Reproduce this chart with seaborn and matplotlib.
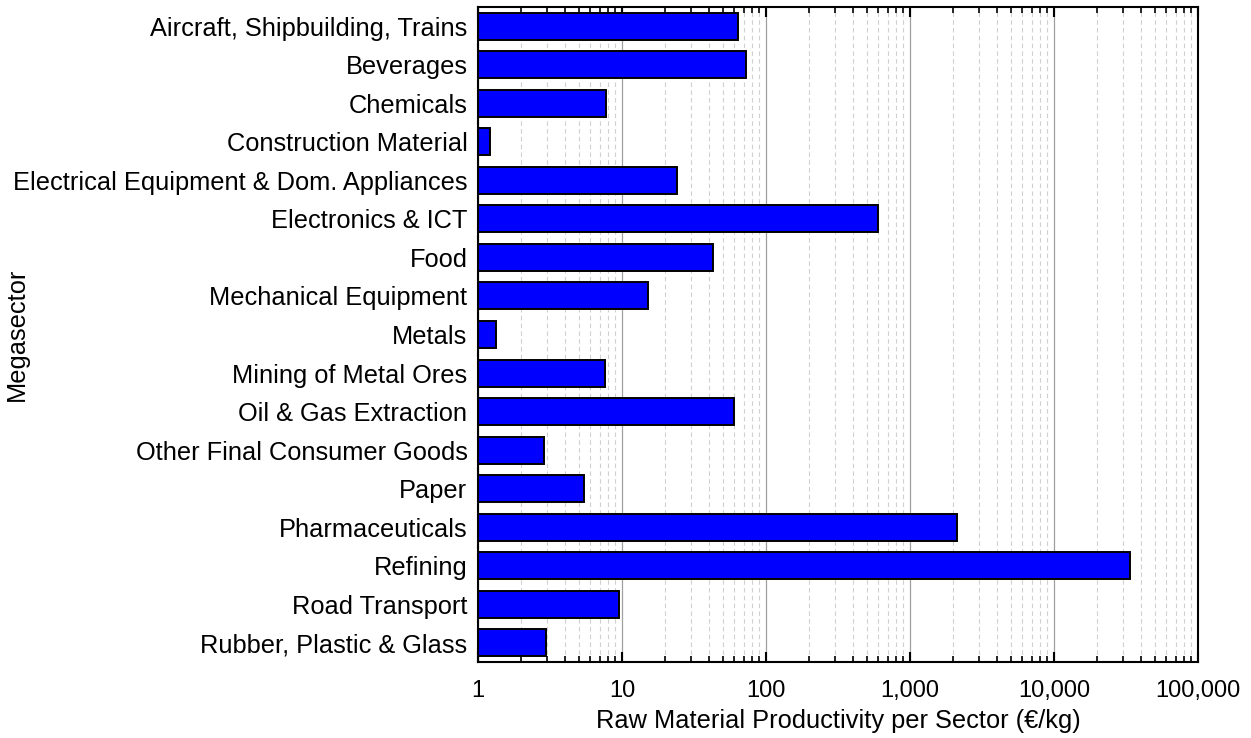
import numpy as np
import pandas as pd
import seaborn as sns
import matplotlib.pyplot as plt
from matplotlib.ticker import FuncFormatter, LogLocator, NullFormatter

# Data
sectors = [
    "Aircraft, Shipbuilding, Trains", "Beverages", "Chemicals",
    "Construction Material", "Electrical Equipment & Dom. Appliances",
    "Electronics & ICT", "Food", "Mechanical Equipment", "Metals",
    "Mining of Metal Ores", "Oil & Gas Extraction", "Other Final Consumer Goods",
    "Paper", "Pharmaceuticals", "Refining", "Road Transport",
    "Rubber, Plastic & Glass",
]
productivity = [63.6, 73, 7.8, 1.22, 24.1, 597, 43, 15.3, 1.34,
                7.6, 59.6, 2.89, 5.47, 2120, 33900, 9.48, 2.98]

df = pd.DataFrame({"Megasector": sectors, "Productivity": productivity})

sns.set_style("white")
plt.rcParams['font.family'] = ['Liberation Sans', 'DejaVu Sans']
plt.rcParams['text.color'] = 'black'
plt.rcParams['axes.labelcolor'] = 'black'
plt.rcParams['xtick.color'] = 'black'
plt.rcParams['ytick.color'] = 'black'

fig = plt.figure(figsize=(12.51, 7.38), dpi=100)
ax = fig.add_axes([0.382, 0.103, 0.5756, 0.8875])

sns.barplot(data=df, x="Productivity", y="Megasector", orient="h",
            color="#0000FF", saturation=1, edgecolor="black", linewidth=1.4,
            width=0.7, ax=ax)

ax.set_xscale("log")
ax.set_xlim(1, 100000)
ax.set_ylim(16.5, -0.5)

ax.xaxis.set_major_locator(LogLocator(base=10, numticks=10))
ax.xaxis.set_minor_locator(LogLocator(base=10, subs=np.arange(2, 10), numticks=100))
ax.xaxis.set_major_formatter(FuncFormatter(lambda v, p: f"{v:,.0f}"))
ax.xaxis.set_minor_formatter(NullFormatter())

ax.set_axisbelow(True)
ax.grid(True, which="major", axis="x", color="#a0a0a0", linewidth=0.9, linestyle="-")
ax.grid(True, which="minor", axis="x", color="#d0d0d0", linewidth=0.8, linestyle=(0, (4, 3)))
ax.grid(False, axis="y")

ax.tick_params(axis="x", which="major", direction="in", length=7, width=1.5,
               top=True, bottom=True, labelsize=17, pad=13)
ax.tick_params(axis="x", which="minor", direction="in", length=4, width=1.2,
               top=True, bottom=True)
ax.tick_params(axis="y", left=False, labelsize=18.3, pad=4)

for s in ax.spines.values():
    s.set_visible(True)
    s.set_linewidth(1.5)
    s.set_color("black")

ax.set_xlabel("Raw Material Productivity per Sector (€/kg)", fontsize=18.3, labelpad=5)
ax.set_ylabel("Megasector", fontsize=18.3)
ax.yaxis.set_label_coords(-0.623, 0.5)

fig.savefig("out.png", dpi=100)
